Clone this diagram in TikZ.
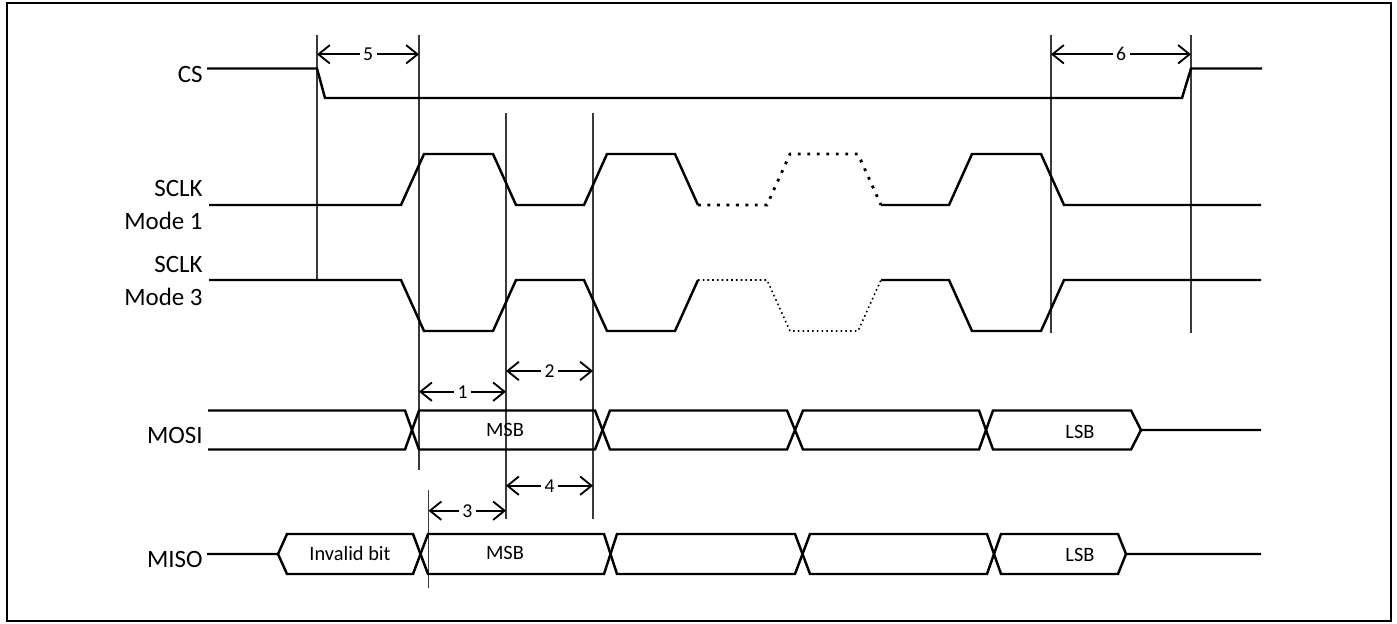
\documentclass[tikz,border=0pt]{standalone}
\usepackage{fontspec}
\setmainfont{Carlito}
\usepackage{tikz}
\usetikzlibrary{arrows.meta}
\definecolor{Signal}{HTML}{000000}
\definecolor{Marker}{HTML}{3A3A3A}

\begin{document}
\begin{tikzpicture}[
	x=0.02cm, y=-0.02cm,
	wave/.style={draw=Signal, line width=1.4pt},
	wavedot/.style={draw=Signal, line width=1.6pt, dash pattern=on 1.6pt off 3.8pt},
	wavefine/.style={draw=Signal, line width=0.9pt, dash pattern=on 0.9pt off 1.8pt},
	marker/.style={draw=Marker, line width=0.6pt},
	dimline/.style={draw=Signal, line width=1.05pt, <->, >={Straight Barb[length=6.5pt,width=10.5pt]}},
	dimnum/.style={fill=white, inner xsep=2pt, inner ysep=0.5pt, font=\fontsize{11.2}{13}\selectfont},
	signame/.style={anchor=east, inner sep=0pt, align=right, font=\fontsize{14.2}{18.7}\selectfont},
	bitname/.style={inner sep=0pt, font=\fontsize{11.6}{13}\selectfont}
	]
	
	\useasboundingbox (0,0) rectangle (1397,623);
	\draw[line width=1.4pt] (7,3) rectangle (1391,621);
	
	% ---------------------------------------------------------
	% SIGNAL NAMES
	% ---------------------------------------------------------
	
	\node[signame] (cs) at (203,74) {CS};
	\node[signame] (sclkone) at (203,205) {SCLK\\Mode 1};
	\node[signame] (sclkthree) at (203,281) {SCLK\\Mode 3};
	\node[signame] (mosi) at (203,435) {MOSI};
	\node[signame] (miso) at (203,559) {MISO};
	
	% ---------------------------------------------------------
	% MARKERS
	% ---------------------------------------------------------
	
	\draw[marker] (317,35) -- (317,281);
	\draw[marker] (419,35) -- (419,470);
	\draw[marker] (506,113) -- (506,519);
	\draw[marker] (593,113) -- (593,519);
	\draw[marker] (428.5,490) -- (428.5,588);
	\draw[marker] (1051,35) -- (1051,333);
	\draw[marker] (1191,35) -- (1191,333);
	
	% ---------------------------------------------------------
	% CS
	% ---------------------------------------------------------
	
	\draw[wave] (207,68.5) -- (317,68.5) -- (325,98) -- (1182,98) -- (1191,68.5) -- (1262,68.5);
	
	% ---------------------------------------------------------
	% SCLK MODE 1
	% ---------------------------------------------------------
	
	\draw[wave] (209,205) -- (401,205) -- (424,154) -- (493,154) -- (516,205) -- (584,205)
	-- (607,154) -- (675,154) -- (698,205);
	\draw[wavedot] (698,205) -- (767,205) -- (790,154) -- (858,154) -- (881,205);
	\draw[wave] (881,205) -- (949,205) -- (972,154) -- (1041,154) -- (1064,205) -- (1261,205);
	
	% ---------------------------------------------------------
	% SCLK MODE 3
	% ---------------------------------------------------------
	
	\draw[wave] (209,280) -- (401,280) -- (424,331) -- (493,331) -- (516,280) -- (584,280)
	-- (607,331) -- (675,331) -- (698,280);
	\draw[wavefine] (698,280) -- (767,280) -- (790,331) -- (858,331) -- (881,280);
	\draw[wave] (881,280) -- (949,280) -- (972,331) -- (1041,331) -- (1064,280) -- (1261,280);
	
	% ---------------------------------------------------------
	% MOSI
	% ---------------------------------------------------------
	
	\draw[wave] (208,410.5) -- (405,410.5) -- (419,449.5) -- (595,449.5) -- (610,410.5) -- (787,410.5)
	-- (803,449.5) -- (979,449.5) -- (993,410.5) -- (1131,410.5) -- (1141,430) -- (1261,430);
	\draw[wave] (208,449.5) -- (405,449.5) -- (419,410.5) -- (595,410.5) -- (610,449.5) -- (787,449.5)
	-- (803,410.5) -- (979,410.5) -- (993,449.5) -- (1131,449.5) -- (1141,430);
	
	\node[bitname] (mosimsb) at (505,430) {MSB};
	\node[bitname] (mosilsb) at (1080,432) {LSB};
	
	% ---------------------------------------------------------
	% MISO
	% ---------------------------------------------------------
	
	\draw[wave] (207,554) -- (278,554) -- (287,534) -- (413,534) -- (428,574) -- (604,574) -- (617,534)
	-- (795,534) -- (810,574) -- (987,574) -- (1001,534) -- (1118,534) -- (1126,554) -- (1261,554);
	\draw[wave] (278,554) -- (287,574) -- (413,574) -- (428,534) -- (604,534) -- (617,574) -- (795,574)
	-- (810,534) -- (987,534) -- (1001,574) -- (1118,574) -- (1126,554);
	
	\node[bitname] (misoinv) at (350,553) {Invalid bit};
	\node[bitname] (misomsb) at (505,553) {MSB};
	\node[bitname] (misolsb) at (1080,555) {LSB};
	
	% ---------------------------------------------------------
	% TIMINGS
	% ---------------------------------------------------------
	
	\coordinate (t5l) at (317,54.3);
	\coordinate (t5r) at (419,54.3);
	\coordinate (t6l) at (1051,54.3);
	\coordinate (t6r) at (1191,54.3);
	\coordinate (t1l) at (419,391.7);
	\coordinate (t1r) at (506,391.7);
	\coordinate (t2l) at (506,371);
	\coordinate (t2r) at (593,371);
	\coordinate (t4l) at (506,485.7);
	\coordinate (t4r) at (593,485.7);
	\coordinate (t3l) at (428.5,510.7);
	\coordinate (t3r) at (506,510.7);
	
	\draw[dimline] (t5l) -- node[dimnum] (n5) {5} (t5r);
	\draw[dimline] (t6l) -- node[dimnum] (n6) {6} (t6r);
	\draw[dimline] (t1l) -- node[dimnum] (n1) {1} (t1r);
	\draw[dimline] (t2l) -- node[dimnum] (n2) {2} (t2r);
	\draw[dimline] (t4l) -- node[dimnum] (n4) {4} (t4r);
	\draw[dimline] (t3l) -- node[dimnum] (n3) {3} (t3r);
	
\end{tikzpicture}
\end{document}
